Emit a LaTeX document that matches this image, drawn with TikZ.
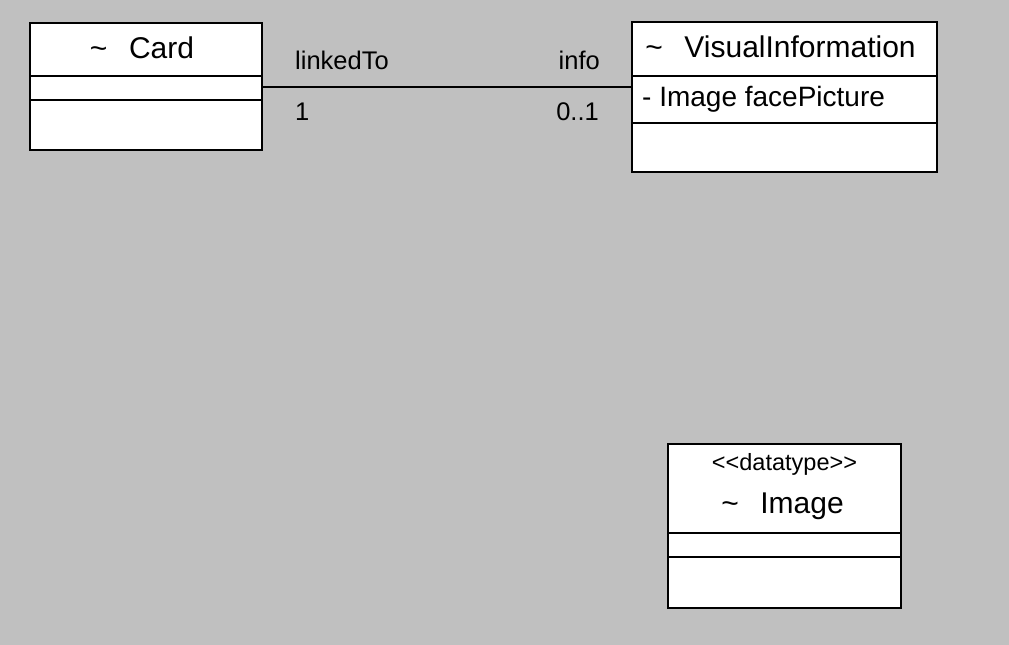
\documentclass[tikz,border=0pt]{standalone}
\usepackage{fontspec}
\setmainfont{Liberation Sans}
\usetikzlibrary{positioning}
\definecolor{canvas}{RGB}{192,192,192}
\tikzset{
  cmp/.style={draw,fill=white,line width=1.4pt,inner sep=0pt,outer sep=0pt,anchor=north west},
  ttl/.style={inner sep=0pt,font=\fontsize{30}{35}\selectfont},
  stt/.style={inner sep=0pt,font=\fontsize{23.5}{28}\selectfont},
  atr/.style={inner sep=0pt,anchor=west,font=\fontsize{28}{33}\selectfont},
  rl/.style={inner sep=0pt,font=\fontsize{25.5}{30}\selectfont},
  asc/.style={line width=1.4pt}
}
\newcommand{\vis}{\textasciitilde\hspace{0.72em}}

\begin{document}
\begin{tikzpicture}[x=1pt,y=-1pt]
\fill[canvas] (0,0) rectangle (1009,645);
\useasboundingbox (0,0) rectangle (1009,645);
% Card
\node[cmp,minimum width=232pt,minimum height=53pt] (cardname) at (30,23) {};
\node[cmp,minimum width=232pt,minimum height=24pt] (cardattr) at (cardname.south west) {};
\node[cmp,minimum width=232pt,minimum height=50pt] (cardops) at (cardattr.south west) {};
\node[ttl] (cardttl) at ([shift={(-4pt,2pt)}]cardname.center) {\vis Card};
% VisualInformation
\node[cmp,minimum width=305pt,minimum height=54pt] (infoname) at (632,22) {};
\node[cmp,minimum width=305pt,minimum height=47pt] (infoattr) at (infoname.south west) {};
\node[cmp,minimum width=305pt,minimum height=49pt] (infoops) at (infoattr.south west) {};
\node[ttl] (infottl) at ([shift={(-4pt,2pt)}]infoname.center) {\vis VisualInformation};
\node[atr] (face) at ([xshift=10pt]infoattr.west) {- Image facePicture};
% Image
\node[cmp,minimum width=233pt,minimum height=89pt] (imgname) at (668,444) {};
\node[cmp,minimum width=233pt,minimum height=24pt] (imgattr) at (imgname.south west) {};
\node[cmp,minimum width=233pt,minimum height=51pt] (imgops) at (imgattr.south west) {};
\node[stt] (imgst) at ([yshift=-20pt]imgname.north) {\textless\kern0pt\textless datatype\textgreater\kern0pt\textgreater};
\node[ttl] (imgttl) at ([shift={(-2pt,-62pt)}]imgname.north) {\vis Image};
% association
\coordinate (src) at ([yshift=1pt]cardattr.east);
\coordinate (dst) at (src -| infoattr.west);
\draw[asc] (src) -- (dst);
\node[rl,anchor=west] (lnk) at ([shift={(33,-27)}]src) {linkedTo};
\node[rl,anchor=west] (m1) at ([shift={(33,25)}]src) {1};
\node[rl,anchor=east] (inf) at ([shift={(-32,-27)}]dst) {info};
\node[rl,anchor=east] (m2) at ([shift={(-33,25)}]dst) {0..1};
\end{tikzpicture}
\end{document}
